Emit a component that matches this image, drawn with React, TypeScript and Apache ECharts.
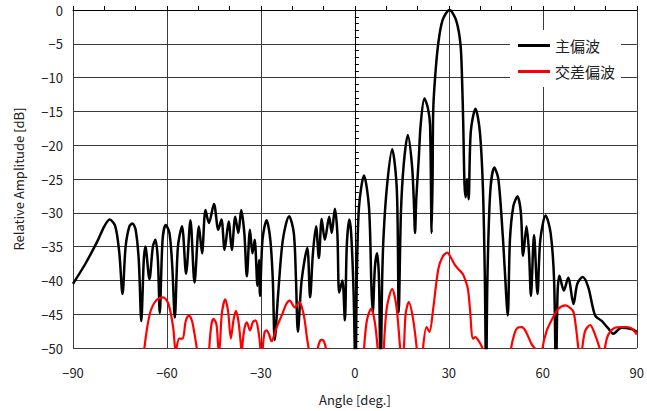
import React, { useEffect, useRef } from "react";
import * as echarts from "echarts";

const xTicks = [-90, -60, -30, 0, 30, 60, 90];
const yTicks = [0, -5, -10, -15, -20, -25, -30, -35, -40, -45, -50];
const seriesNames = ["主偏波", "交差偏波"];

// 主偏波 (co-polarization)
const mainAngles = [
  -90, -86, -82, -80, -78.3, -76.5, -75.2, -74.2, -73.2, -72, -71, -70, -69, -68.2, -67.4, -66.9, -65.6, -64.5, -63.7,
  -62.9, -62.3, -61.4, -60.4, -59.2, -58.3, -57.5, -56.5, -55.2, -53.9, -52.5, -51.2, -49.8, -48.8, -47.7, -46.6, -45,
  -43.6, -42.6, -41.6, -40.3, -39.3, -38.2, -37.2, -36.3, -35.3, -34.5, -33.5, -32.7, -32, -31.1, -30.6, -30.3, -29.5,
  -28.2, -27, -26.2, -25.6, -24.5, -23, -21, -19.5, -18.8, -18.2, -17, -15.2, -14.3, -13.4, -12.4, -11.5, -10.6, -9.6,
  -8.2, -7.4, -6.4, -5.6, -5.0, -4, -3.2, -2.6, -1.8, -1.2, -0.4, 0.2, 0.6, 1.3, 2.9, 4.5, 5.3, 5.7, 6.4, 7.1, 7.7, 8.2,
  8.7, 9.2, 10.3, 11.9, 13.4, 14.0, 14.7, 15.6, 16.9, 18.2, 18.8, 19.2, 19.6, 20.4, 21.0, 22.2, 23.3, 24.0, 24.5, 24.8,
  25.0, 25.6, 26.6, 28, 30.2, 32.3, 33.7, 34.2, 34.6, 35.0, 35.4, 35.8, 36.3, 37, 38.5, 39.9, 40.9, 41.5, 41.9, 42.3,
  43.2, 44.5, 45.8, 47.2, 47.8, 48.8, 49.5, 50.6, 51.9, 53, 53.7, 54.8, 55.6, 56.2, 57.2, 58.3, 59.2, 60.9, 62.5, 63.6,
  64.2, 64.7, 65.3, 66.7, 68.1, 69.8, 71, 72.7, 74.5, 76.7, 78.8, 80.9, 82.5, 85.1, 88.3, 90,
];
const mainDb = [
  -40.5, -37.5, -34, -32, -31, -32, -36, -42, -35, -32, -31.6, -32.5, -37, -46, -37, -35, -39.8, -35, -34,
  -37, -44.8, -34, -31.8, -33, -38, -45.5, -35, -32, -39, -31.1, -40.3, -32, -36, -29.6, -31.5, -28.7,
  -32.5, -31, -35.5, -31.3, -35.5, -30.6, -33, -29.6, -33, -39.4, -32.5, -36, -34, -40.8, -37, -42.3, -34,
  -31.1, -34, -40, -48.8, -42, -34, -30.5, -33, -40, -47.6, -40, -35.2, -42.5, -36, -32, -36.7, -30.9, -34,
  -30.6, -33, -29.4, -33, -41.8, -40, -45.9, -35, -31, -33, -42, -55, -40, -29.2, -24.5, -29.2, -41.3, -44.7, -38, -36, -40, -55,
  -40, -33, -25.8, -20.6, -26.7, -44.7, -30, -22.8, -18.5, -22.8, -28, -33, -28, -21.9, -17, -13.1, -14.5, -17, -33, -25,
  -15, -10, -5, -1.5, 0, -1.5, -5, -10, -17, -25.8, -27.7, -25, -28, -18, -14.6, -18, -26.7, -40, -55, -40,
  -27, -23.3, -25, -33.3, -38, -45.2, -34, -29, -27.6, -30, -36.4, -32, -36, -42.3, -33.3, -42, -34, -30.4, -33, -40,
  -55, -42, -39.3, -41.5, -39.6, -43.5, -40.5, -39.5, -41, -45.2, -46, -47.1, -47.9, -47, -47.2, -47.6,
];

// 交差偏波 (cross-polarization)
const crossAngles = [
  -68, -67.2, -65.5, -63.5, -61.2, -59.5, -58, -57.2, -56.1, -55, -54, -53, -52, -51, -50.2, -49.5, -47, -46.5, -45.8,
  -45.1, -44.2, -43.6, -43.3, -42.5, -41.4, -40.5, -39.6, -38.8, -38, -37.2, -36.5, -36.1, -35.8, -35.2, -34.5, -33.5,
  -32.6, -31.7, -30.8, -30.2, -29.8, -29.4, -28.8, -28.2, -27.4, -26.6, -26.1, -25.3, -24.5, -23.2, -21.9, -20.8, -19.2,
  -17.7, -16.9, -16.1, -15.3, -14.5, -14, -12.4, -11.9, -11.2, -10.6, -9.9, -9.2, -8.8, 2.5, 2.9, 3.8, 5.2, 6.3, 7.3, 7.8,
  8.8, 9.2, 10.2, 11.9, 13.3, 14.5, 15.0, 15.6, 16.2, 17.2, 18.5, 19.8, 20.5, 21.3, 21.7, 22.9, 23.8, 25.0, 26.6, 28,
  29.5, 30.5, 31.9, 33, 34.5, 35.5, 36.1, 36.7, 37.7, 38.5, 39.3, 40.2, 40.9, 41.5, 49.3, 49.8, 51, 52, 53.3, 54.5, 56.5,
  57.7, 58.5, 59.3, 59.8, 61.2, 63.0, 65, 67.2, 68.8, 69.8, 70.6, 71.4, 71.9, 72.5, 73.5, 75.1, 76.5, 78.3, 79, 79.7,
  80.5, 81.5, 83, 85.1, 86.8, 88.3, 90,
];
const crossDb = [
  -55, -50, -45, -43, -42.5, -43.5, -47, -50.5, -48.6, -48.6, -46, -45.2, -46, -48.5, -51, -55, -55, -50, -46.5,
  -45.7, -46.5, -50, -50.5, -45, -42.8, -44.5, -48.6, -46, -44.5, -46, -49, -51, -49, -47, -46.2, -47.4,
  -46.2, -45.9, -47.5, -50, -55, -50, -47.6, -47.4, -48, -49, -48.6, -47.4, -46.4, -45, -43.5, -43, -44,
  -43.2, -44, -45.7, -48.5, -51, -55, -55, -50.3, -49, -48.8, -49, -50.3, -55, -55, -50.3, -46, -44.2, -46, -50.3, -55,
  -55, -50.3, -44, -41.3, -44, -50.3, -52, -50.3, -45, -43.2, -45.5, -50.3, -55, -55, -50.3, -46.9, -47.6, -44.2, -38.4, -36.5,
  -35.9, -36.5, -37.7, -38.3, -39.1, -40.3, -41.3, -44, -48.6, -48.4, -48.8, -49.5, -50.3, -55, -55, -50.3, -47.8, -47, -46.9, -47.5, -49.5,
  -50.3, -55, -55, -50.3, -47.5, -45.7, -44.2, -43.7, -44.1, -44.7, -47, -50.3, -52, -50.3, -47.5, -46.6, -47.8, -50.3, -52, -50.3,
  -48.5, -47.6, -47, -46.9, -46.9, -47.1, -48,
];

const fontFamily = '"Noto Sans CJK JP", "Noto Sans", sans-serif';
const fmt = (v: number) => (v < 0 ? "\u2212" + Math.abs(v) : String(v));

export default function App() {
  const ref = useRef<HTMLDivElement>(null);
  useEffect(() => {
    if (!ref.current) return;
    const chart = echarts.init(ref.current, undefined, { renderer: "svg" });
    const mainData = mainAngles.map((a, i) => [a, mainDb[i]]);
    const crossData = crossAngles.map((a, i) => [a, crossDb[i]]);
    chart.setOption({
      animation: false,
      backgroundColor: "#fff",
      textStyle: { fontFamily },
      grid: { left: 73, right: 5, top: 10, bottom: 58, containLabel: false },
      legend: {
        orient: "vertical",
        left: 510,
        top: 30,
        padding: [8, 6, 8, 8],
        backgroundColor: "#fff",
        itemWidth: 32,
        itemHeight: 3,
        itemGap: 11,
        textStyle: { fontFamily, fontSize: 15, color: "#222" },
        data: [
          { name: seriesNames[0], icon: "rect", itemStyle: { color: "#000" } },
          { name: seriesNames[1], icon: "rect", itemStyle: { color: "#ff0000" } },
        ],
      },
      xAxis: {
        type: "value",
        min: xTicks[0],
        max: xTicks[xTicks.length - 1],
        interval: 30,
        name: "Angle [deg.]",
        nameLocation: "middle",
        nameGap: 45,
        nameTextStyle: { fontFamily, fontSize: 13, color: "#222" },
        axisLine: { show: true, lineStyle: { color: "#000", width: 1 } },
        axisTick: { show: true, inside: true, length: 4, lineStyle: { color: "#000" } },
        minorTick: { show: true, splitNumber: 3, length: 4, lineStyle: { color: "#000" } },
        axisLabel: { fontFamily, fontSize: 13, color: "#222", margin: 18, formatter: fmt },
        splitLine: { show: true, lineStyle: { color: "#3a3a3a", width: 1 } },
      },
      yAxis: {
        type: "value",
        min: yTicks[yTicks.length - 1],
        max: yTicks[0],
        interval: 5,
        name: "Relative Amplitude [dB]",
        nameLocation: "middle",
        nameGap: 48,
        nameTextStyle: { fontFamily, fontSize: 13, color: "#222" },
        axisLine: { show: true, lineStyle: { color: "#000", width: 1 } },
        axisTick: { show: true, inside: true, length: 4, lineStyle: { color: "#000" } },
        minorTick: { show: true, splitNumber: 5, length: 4, lineStyle: { color: "#000" } },
        axisLabel: { fontFamily, fontSize: 13, color: "#222", margin: 10, formatter: fmt },
        splitLine: { show: true, lineStyle: { color: "#3a3a3a", width: 1 } },
      },
      series: [
        {
          name: seriesNames[0],
          type: "line",
          data: mainData,
          showSymbol: false,
          symbol: "none",
          smooth: 0.3,
          clip: true,
          lineStyle: { color: "#000", width: 2.5 },
          itemStyle: { color: "#000" },
          z: 2,
        },
        {
          name: seriesNames[1],
          type: "line",
          data: crossData,
          showSymbol: false,
          symbol: "none",
          smooth: 0.3,
          clip: true,
          lineStyle: { color: "#ff0000", width: 2.2 },
          itemStyle: { color: "#ff0000" },
          z: 3,
        },
      ],
    });
    return () => chart.dispose();
  }, []);
  return <div ref={ref} style={{ width: 647, height: 411, position: "absolute", left: 0, top: 0 }} />;
}
